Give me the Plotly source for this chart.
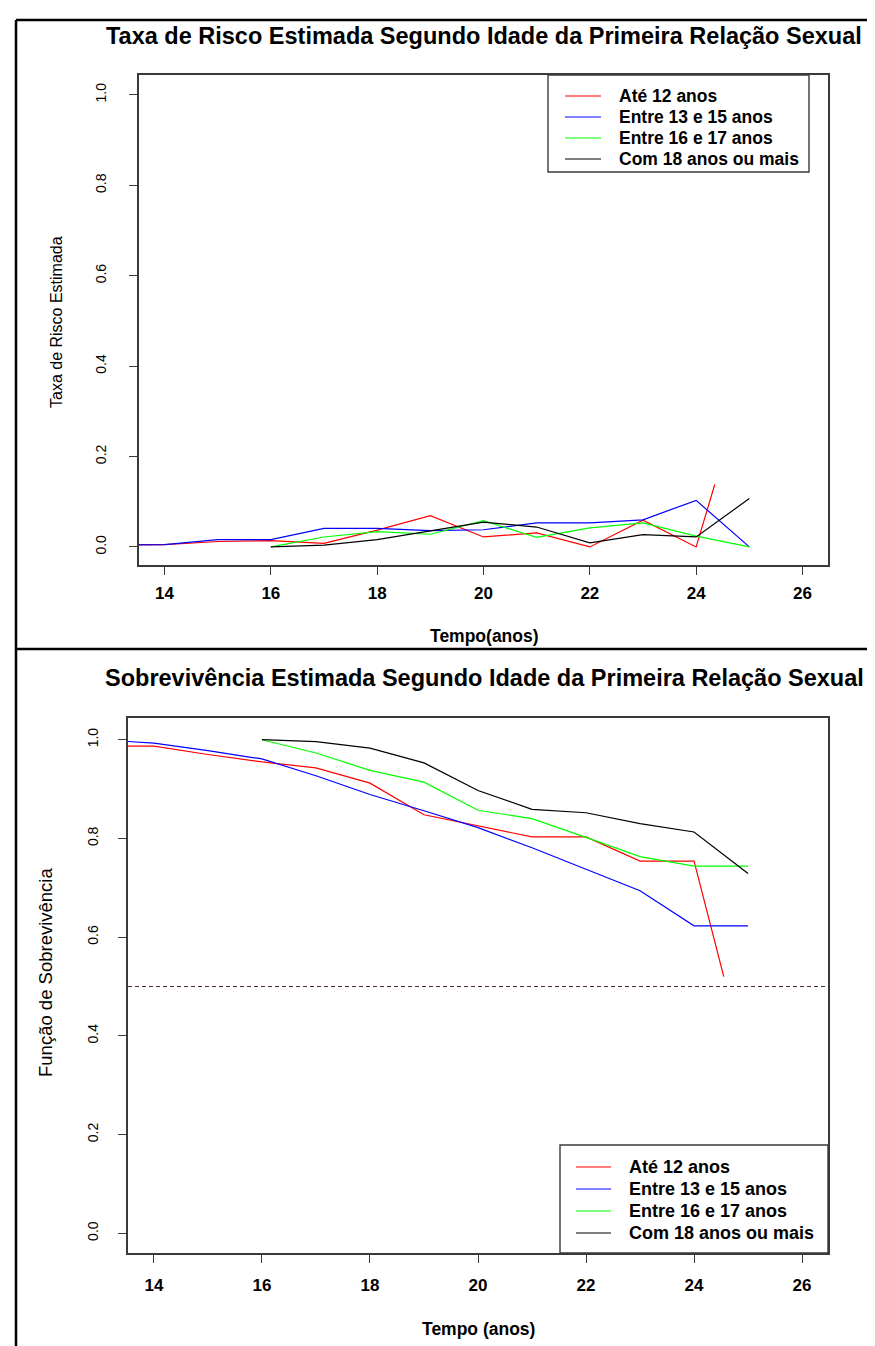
import plotly.graph_objects as go

W, H = 875, 1346

# ---------------- data ----------------
grupos = ["Até 12 anos", "Entre 13 e 15 anos", "Entre 16 e 17 anos", "Com 18 anos ou mais"]
cores = ["#FF0000", "#0000FF", "#00FF00", "#000000"]

# Taxa de risco estimada (painel superior)
anos_risco_g1 = [13, 14, 15, 16, 17, 18, 19, 20, 21, 22, 23, 24, 24.35]
risco_g1 = [0.005, 0.005, 0.012, 0.014, 0.008, 0.037, 0.069, 0.022, 0.031, 0.0, 0.059, 0.0, 0.138]
anos_risco_g2 = [13, 14, 15, 16, 17, 18, 19, 20, 21, 22, 23, 24, 25]
risco_g2 = [0.004, 0.005, 0.016, 0.016, 0.041, 0.041, 0.036, 0.038, 0.053, 0.053, 0.060, 0.103, 0.0]
anos_risco_g3 = [16, 17, 18, 19, 20, 21, 22, 23, 24, 25]
risco_g3 = [0.0, 0.022, 0.034, 0.028, 0.058, 0.021, 0.042, 0.053, 0.024, 0.0]
anos_risco_g4 = [16, 17, 18, 19, 20, 21, 22, 23, 24, 25]
risco_g4 = [0.0, 0.004, 0.016, 0.035, 0.055, 0.044, 0.009, 0.027, 0.022, 0.107]

# Sobrevivência estimada (painel inferior)
anos_surv_g1 = [13, 14, 15, 16, 17, 18, 19, 20, 21, 22, 23, 24, 24.55]
surv_g1 = [0.987, 0.987, 0.970, 0.955, 0.943, 0.912, 0.848, 0.825, 0.803, 0.803, 0.754, 0.754, 0.52]
anos_surv_g2 = [13, 14, 15, 16, 17, 18, 19, 20, 21, 22, 23, 24, 25]
surv_g2 = [1.0, 0.993, 0.978, 0.961, 0.927, 0.889, 0.856, 0.822, 0.781, 0.737, 0.694, 0.623, 0.623]
anos_surv_g3 = [16, 17, 18, 19, 20, 21, 22, 23, 24, 25]
surv_g3 = [1.0, 0.973, 0.938, 0.914, 0.857, 0.840, 0.802, 0.763, 0.744, 0.744]
anos_surv_g4 = [16, 17, 18, 19, 20, 21, 22, 23, 24, 25]
surv_g4 = [1.0, 0.996, 0.983, 0.953, 0.897, 0.859, 0.852, 0.830, 0.813, 0.729]

mediana = 0.5
x_ticks = [14, 16, 18, 20, 22, 24, 26]
y_ticks = [0.0, 0.2, 0.4, 0.6, 0.8, 1.0]
y_ticklabels = ["0.0", "0.2", "0.4", "0.6", "0.8", "1.0"]

titulo_top = "Taxa de Risco Estimada Segundo Idade da Primeira Relação Sexual"
titulo_bot = "Sobrevivência Estimada Segundo Idade da Primeira Relação Sexual"
ylab_top = "Taxa de Risco Estimada"
ylab_bot = "Função de Sobrevivência"
xlab_top = "Tempo(anos)"
xlab_bot = "Tempo (anos)"

# ---------------- helpers ----------------
def px(x):
    return x / W

def py(y):
    return 1 - y / H

FONT = "Liberation Sans, Arial, sans-serif"
AXC = "#3a3a3a"

fig = go.Figure()

risco = [(anos_risco_g1, risco_g1), (anos_risco_g2, risco_g2),
         (anos_risco_g3, risco_g3), (anos_risco_g4, risco_g4)]
surv = [(anos_surv_g1, surv_g1), (anos_surv_g2, surv_g2),
        (anos_surv_g3, surv_g3), (anos_surv_g4, surv_g4)]

for (xs, ys), nome, cor in zip(risco, grupos, cores):
    fig.add_trace(go.Scatter(x=xs, y=ys, mode="lines", name=nome, showlegend=False,
                             line=dict(color=cor, width=1.2), xaxis="x", yaxis="y"))
for (xs, ys), nome, cor in zip(surv, grupos, cores):
    fig.add_trace(go.Scatter(x=xs, y=ys, mode="lines", name=nome, showlegend=False,
                             line=dict(color=cor, width=1.2), xaxis="x2", yaxis="y2"))

# median reference line (abline h=0.5)
fig.add_trace(go.Scatter(x=[13.52, 26.48], y=[mediana, mediana], mode="lines", showlegend=False,
                         line=dict(color="#4a2a2a", width=1.1, dash="4px,3px"),
                         xaxis="x2", yaxis="y2", hoverinfo="skip"))

def xaxis_cfg(domain, standoff):
    return dict(domain=domain, range=[13.52, 26.48], tickvals=x_ticks, ticktext=[str(t) for t in x_ticks],
                showline=True, mirror=True, linecolor=AXC, linewidth=1.6, ticks="outside",
                ticklen=8, tickwidth=1.4, tickcolor=AXC, showgrid=False, zeroline=False,
                ticklabelstandoff=standoff,
                tickfont=dict(family=FONT, size=17, color="#000", weight="bold"))

def yaxis_cfg(domain, anchor, standoff):
    return dict(domain=domain, range=[-0.04, 1.044], tickvals=y_ticks, ticktext=y_ticklabels,
                showline=True, mirror=True, linecolor=AXC, linewidth=1.6, ticks="outside",
                ticklen=8, tickwidth=1.4, tickcolor=AXC, showgrid=False, zeroline=False,
                tickangle=-90, ticklabelstandoff=standoff, anchor=anchor,
                tickfont=dict(family=FONT, size=14, color="#000"))

fig.update_layout(
    width=W, height=H,
    margin=dict(l=0, r=0, t=0, b=0),
    paper_bgcolor="white", plot_bgcolor="white",
    xaxis=dict(xaxis_cfg([px(131), px(820)], 4), anchor="y"),
    yaxis=yaxis_cfg([py(557), py(67)], "x", 18),
    xaxis2=dict(xaxis_cfg([px(120), px(820)], 8), anchor="y2"),
    yaxis2=yaxis_cfg([py(1245), py(710)], "x2", 15),
)

shapes = []
annotations = []

# outer frame (document table borders)
for x0, y0, x1, y1 in [(8, 12, 875, 12), (8, 12, 8, 1346), (8, 641, 875, 641)]:
    shapes.append(dict(type="line", xref="paper", yref="paper", x0=px(x0), y0=py(y0), x1=px(x1), y1=py(y1),
                       line=dict(color="#000", width=2.5)))

# titles
annotations.append(dict(text=titulo_top, x=px(476), y=py(28), xref="paper", yref="paper",
                        showarrow=False, xanchor="center", yanchor="middle",
                        font=dict(family=FONT, size=23.5, color="#000", weight="bold")))
annotations.append(dict(text=titulo_bot, x=px(476), y=py(670), xref="paper", yref="paper",
                        showarrow=False, xanchor="center", yanchor="middle",
                        font=dict(family=FONT, size=23.5, color="#000", weight="bold")))
# axis titles
annotations.append(dict(text=xlab_top, x=px(476), y=py(628), xref="paper", yref="paper",
                        showarrow=False, xanchor="center", yanchor="middle",
                        font=dict(family=FONT, size=17.5, color="#000", weight="bold")))
annotations.append(dict(text=xlab_bot, x=px(470), y=py(1321), xref="paper", yref="paper",
                        showarrow=False, xanchor="center", yanchor="middle",
                        font=dict(family=FONT, size=17.5, color="#000", weight="bold")))
annotations.append(dict(text=ylab_top, x=px(48), y=py(314), xref="paper", yref="paper",
                        showarrow=False, xanchor="center", yanchor="middle", textangle=-90,
                        font=dict(family=FONT, size=16, color="#000")))
annotations.append(dict(text=ylab_bot, x=px(37), y=py(965), xref="paper", yref="paper",
                        showarrow=False, xanchor="center", yanchor="middle", textangle=-90,
                        font=dict(family=FONT, size=18.5, color="#000")))

# legends (drawn manually, R style boxes)
def legenda(x0, y0, x1, y1, rows, lx0, lx1, tx, size):
    shapes.append(dict(type="rect", xref="paper", yref="paper", x0=px(x0), y0=py(y1), x1=px(x1), y1=py(y0),
                       line=dict(color=AXC, width=1.4), fillcolor="white"))
    for yy, nome, cor in zip(rows, grupos, cores):
        shapes.append(dict(type="line", xref="paper", yref="paper", x0=px(lx0), y0=py(yy), x1=px(lx1), y1=py(yy),
                           line=dict(color=cor, width=1.2)))
        annotations.append(dict(text=nome, x=px(tx), y=py(yy), xref="paper", yref="paper",
                                showarrow=False, xanchor="left", yanchor="middle",
                                font=dict(family=FONT, size=size, color="#000", weight="bold")))

legenda(540, 67, 801, 164, [88, 109, 130, 151], 557, 593, 609, 17.5)
legenda(552, 1137, 820, 1245, [1159, 1181, 1203, 1225], 568, 603, 619, 18)

fig.update_layout(shapes=shapes, annotations=annotations)

fig.write_html("out.html")
